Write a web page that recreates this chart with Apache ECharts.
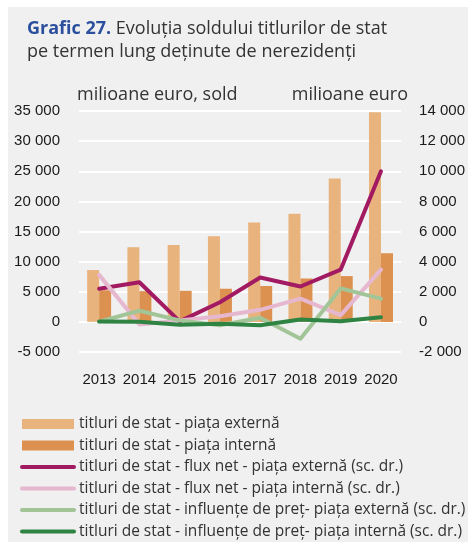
<!DOCTYPE html>
<html>
<head>
<meta charset="utf-8">
<script src="https://cdn.jsdelivr.net/npm/echarts@6/dist/echarts.min.js"></script>
<style>
  html, body { margin: 0; padding: 0; background: #fff; }
  #chart { width: 468px; height: 542px; }
</style>
</head>
<body>
<div id="chart"></div>
<script>
var years = ['2013', '2014', '2015', '2016', '2017', '2018', '2019', '2020'];
// milioane euro, sold (left axis)
var soldExtern = [8600, 12400, 12750, 14200, 16500, 17950, 23800, 34800];
var soldIntern = [5250, 5100, 5150, 5500, 5950, 7200, 7600, 11400];
// milioane euro (right axis)
var fluxExtern = [2200, 2630, 30, 1300, 2950, 2350, 3470, 10000];
var fluxIntern = [3120, -180, 100, 380, 800, 1540, 450, 3470];
var pretExtern = [20, 740, 100, -230, 270, -1120, 2220, 1540];
var pretIntern = [20, 10, -190, -120, -230, 160, 40, 310];

var names = [
    'titluri de stat - piața externă',
    'titluri de stat - piața internă',
    'titluri de stat - flux net - piața externă (sc. dr.)',
    'titluri de stat - flux net - piața internă (sc. dr.)',
    'titluri de stat - influențe de preț- piața externă (sc. dr.)',
    'titluri de stat - influențe de preț- piața internă (sc. dr.)'
];

var narrow = "'Liberation Sans Narrow', 'Arial Narrow', 'Liberation Sans', sans-serif";
var textFont = "'Open Sans', 'Noto Sans', sans-serif";

function fmt(v) {
    var s = String(Math.abs(v));
    s = s.replace(/\B(?=(\d{3})+(?!\d))/g, ' ');
    return (v < 0 ? '-' : '') + s;
}

function lineSeries(name, data, color) {
    return {
        name: name,
        type: 'line',
        yAxisIndex: 1,
        data: data,
        symbol: 'none',
        lineStyle: { color: color, width: 4, cap: 'round', join: 'round' },
        itemStyle: { color: color }
    };
}

function lineLegend(name) {
    return { name: name, itemStyle: { opacity: 0 }, lineStyle: { width: 4, cap: 'round' } };
}

var chart = echarts.init(document.getElementById('chart'));

var option = {
    animation: false,
    graphic: [{
        type: 'rect',
        z: -10,
        shape: { x: 8, y: 7, width: 460, height: 535 },
        style: { fill: '#f0f0f0' }
    }, {
        type: 'text',
        left: 77,
        top: 86,
        style: { text: 'milioane euro, sold', fontFamily: textFont, fontSize: 18, fill: '#333' }
    }, {
        type: 'text',
        right: 60,
        top: 86,
        style: { text: 'milioane euro', fontFamily: textFont, fontSize: 18, fill: '#333' }
    }],
    title: {
        left: 22,
        top: 12,
        text: '{b|Grafic 27.} Evoluția soldului titlurilor de stat\npe termen lung deținute de nerezidenți',
        textStyle: {
            fontFamily: textFont,
            fontSize: 18,
            fontWeight: 'normal',
            color: '#333',
            lineHeight: 23,
            rich: {
                b: { fontFamily: textFont, fontSize: 18, fontWeight: 'bold', color: '#2a4f9d', lineHeight: 23 }
            }
        }
    },
    legend: {
        orient: 'vertical',
        left: 20,
        top: 416,
        padding: 0,
        itemWidth: 52,
        itemHeight: 10,
        itemGap: 5.5,
        lineStyle: { width: 4, cap: 'round' },
        textStyle: { fontFamily: textFont, fontSize: 15.5, color: '#333', lineHeight: 16 },
        data: [
            { name: names[0], icon: 'rect' },
            { name: names[1], icon: 'rect' },
            lineLegend(names[2]),
            lineLegend(names[3]),
            lineLegend(names[4]),
            lineLegend(names[5])
        ]
    },
    grid: { left: 79, right: 63, top: 111, bottom: 190 },
    xAxis: {
        type: 'category',
        data: years,
        axisLine: { show: false, onZero: false },
        axisTick: { show: false },
        axisLabel: { interval: 0, fontFamily: narrow, fontSize: 15, color: '#1a1a1a', margin: 19, lineHeight: 18 }
    },
    yAxis: [{
        type: 'value',
        min: -5000,
        max: 35000,
        interval: 5000,
        axisLine: { show: false },
        axisTick: { show: false },
        axisLabel: { fontFamily: narrow, fontSize: 15, color: '#1a1a1a', margin: 19, formatter: fmt },
        splitLine: { lineStyle: { color: '#ffffff', width: 2 } }
    }, {
        type: 'value',
        min: -2000,
        max: 14000,
        interval: 2000,
        axisLine: { show: false },
        axisTick: { show: false },
        axisLabel: { fontFamily: narrow, fontSize: 15, color: '#1a1a1a', margin: 18, formatter: fmt },
        splitLine: { show: false }
    }],
    series: [{
        name: names[0],
        type: 'bar',
        data: soldExtern,
        barWidth: 12,
        barGap: '0%',
        itemStyle: { color: '#e9b37e' }
    }, {
        name: names[1],
        type: 'bar',
        data: soldIntern,
        barWidth: 12,
        barGap: '0%',
        itemStyle: { color: '#dd9150' }
    },
    lineSeries(names[2], fluxExtern, '#a21a62'),
    lineSeries(names[3], fluxIntern, '#e6b8d0'),
    lineSeries(names[4], pretExtern, '#a2c598'),
    lineSeries(names[5], pretIntern, '#2f8443')
    ]
};

chart.setOption(option);
</script>
</body>
</html>
